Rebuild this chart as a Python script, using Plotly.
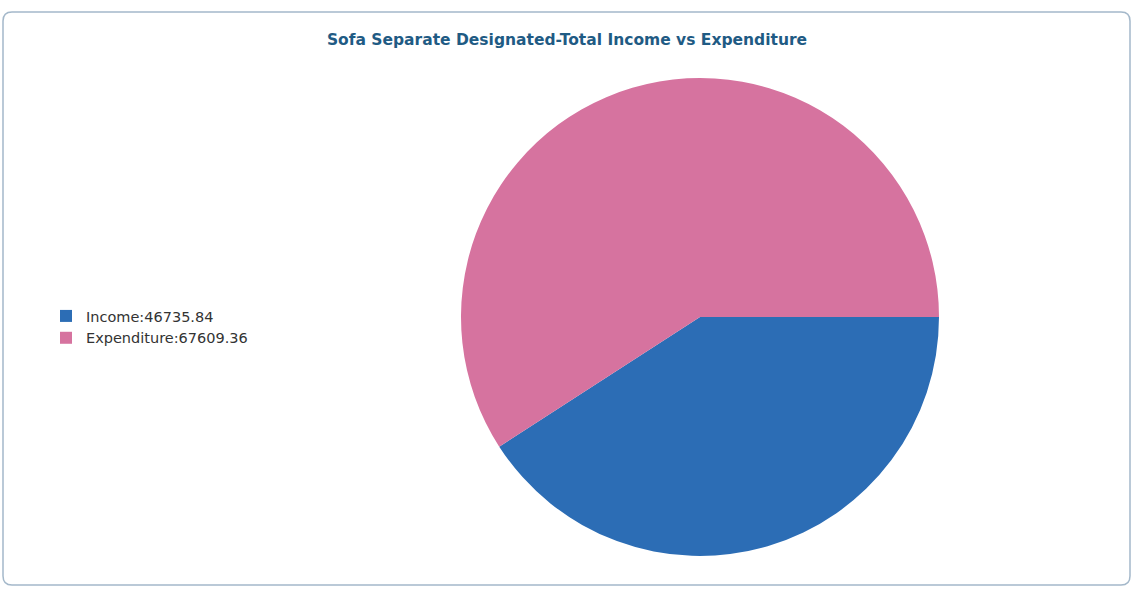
import plotly.graph_objects as go

categories = ["Income", "Expenditure"]
values = [46735.84, 67609.36]
colors = ["#2c6db5", "#d6739f"]

labels = [f"{c}:{v:.2f}" for c, v in zip(categories, values)]

W, H = 1134, 592
cx, cy, r = 700, 317, 239  # pixel centre / radius (from top-left)

fig = go.Figure(go.Pie(
    labels=labels,
    values=values,
    marker=dict(colors=colors, line=dict(width=0)),
    sort=False,
    direction="clockwise",
    rotation=90,
    textinfo="none",
    hoverinfo="label+percent",
    domain=dict(x=[(cx - r) / W, (cx + r) / W],
                y=[(H - cy - r) / H, (H - cy + r) / H]),
))

# rounded card border (pixel coords -> paper coords)
x0, y0, x1, y1, rr = 3, 12, 1130, 585, 9
sx = lambda v: v / W
sy = lambda v: 1 - v / H
path = (f"M{sx(x0+rr)},{sy(y0)} L{sx(x1-rr)},{sy(y0)} Q{sx(x1)},{sy(y0)} {sx(x1)},{sy(y0+rr)} "
        f"L{sx(x1)},{sy(y1-rr)} Q{sx(x1)},{sy(y1)} {sx(x1-rr)},{sy(y1)} L{sx(x0+rr)},{sy(y1)} "
        f"Q{sx(x0)},{sy(y1)} {sx(x0)},{sy(y1-rr)} L{sx(x0)},{sy(y0+rr)} Q{sx(x0)},{sy(y0)} {sx(x0+rr)},{sy(y0)} Z")

fig.update_layout(
    width=W, height=H,
    margin=dict(l=0, r=0, t=0, b=0),
    paper_bgcolor="white",
    title=dict(text="<b>Sofa Separate Designated-Total Income vs Expenditure</b>",
               x=0.5, xanchor="center", y=1 - 40 / H, yanchor="middle",
               font=dict(family="DejaVu Sans", size=15.5, color="#1f5b84")),
    legend=dict(x=46 / W, xanchor="left", y=1 - 300 / H, yanchor="top",
                font=dict(family="DejaVu Sans", size=14.5, color="#333333"),
                tracegroupgap=0, itemsizing="constant"),
    shapes=[dict(type="path", path=path, xref="paper", yref="paper",
                 line=dict(color="#a4b8ca", width=1.5), layer="below")],
)

fig.write_html("out.html",
               config={"displayModeBar": False},
               post_script="document.body.style.margin='0';document.body.style.overflow='hidden';")
